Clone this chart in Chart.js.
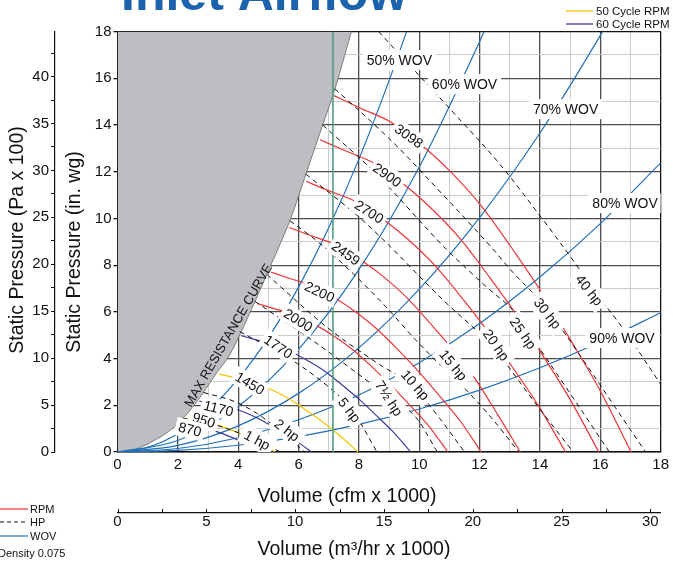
<!DOCTYPE html>
<html>
<head>
<meta charset="utf-8">
<title>Inlet Airflow</title>
<script src="https://cdn.jsdelivr.net/npm/chart.js@4.4.1/dist/chart.umd.min.js"></script>
<style>
  html, body { margin: 0; padding: 0; background: #fff; }
  #wrap { width: 673px; height: 565px; position: relative; overflow: hidden; }
</style>
</head>
<body>
<div id="wrap"><canvas id="fanChart" width="673" height="565"></canvas></div>
<script>
// values: x = volume (cfm x 1000), y = static pressure (in. wg)
const maxResistance = [[0,0],[0.44,0.06],[1.1,0.41],[1.87,1.06],[2.53,1.98],[3.3,3.41],[3.7,4.12],[4.14,5.26],[5.02,7.82],[5.74,10.0],[6.27,12.0],[6.8,14.0],[7.22,15.6],[7.75,18.0]];
const markerLine = [[7.14,0],[7.14,18]];

const rpm3098 = [[7.17,15.26],[8.0,14.75],[9.09,14.1],[10.25,12.95],[11.07,11.96],[12.06,10.53],[13.17,8.54],[14.1,6.75],[14.93,4.97],[15.97,2.69],[17.02,0]];
const rpm2900 = [[6.71,13.37],[7.49,12.93],[8.51,12.36],[9.6,11.35],[10.36,10.48],[11.29,9.23],[12.33,7.48],[13.2,5.92],[13.98,4.36],[14.95,2.36],[15.95,0]];
const rpm2700 = [[6.25,11.59],[6.97,11.2],[7.92,10.71],[8.93,9.84],[9.65,9.08],[10.51,8.0],[11.48,6.49],[12.29,5.13],[13.01,3.78],[13.92,2.04],[14.85,0]];
const rpm2459 = [[5.69,9.61],[6.35,9.29],[7.21,8.88],[8.14,8.16],[8.79,7.53],[9.57,6.63],[10.45,5.38],[11.19,4.25],[11.85,3.13],[12.6,1.6],[13.35,0]];
const rpm2200 = [[5.09,7.7],[5.68,7.44],[6.45,7.11],[7.28,6.53],[7.86,6.03],[8.56,5.31],[9.35,4.31],[10.01,3.4],[10.6,2.51],[11.34,1.36],[12.05,0]];
const rpm2000 = [[4.63,6.36],[5.16,6.15],[5.87,5.88],[6.62,5.4],[7.15,4.98],[7.79,4.39],[8.5,3.56],[9.1,2.81],[9.64,2.07],[10.31,1.12],[10.95,0]];
const rpm1770 = [[4.1,4.98],[4.57,4.81],[5.19,4.6],[5.86,4.23],[6.32,3.9],[6.89,3.44],[7.52,2.79],[8.06,2.2],[8.53,1.62],[9.12,0.88],[9.72,0]];
const rpm1450 = [[3.36,3.34],[3.74,3.23],[4.25,3.09],[4.8,2.84],[5.18,2.62],[5.64,2.31],[6.16,1.87],[6.6,1.48],[6.99,1.09],[7.47,0.59],[7.97,0]];
const rpm1170 = [[2.71,2.18],[3.02,2.1],[3.43,2.01],[3.87,1.85],[4.18,1.71],[4.56,1.5],[4.97,1.22],[5.33,0.96],[5.64,0.71],[6.03,0.38],[6.43,0]];
const rpm950 = [[2.2,1.43],[2.45,1.39],[2.79,1.33],[3.14,1.22],[3.39,1.12],[3.7,0.99],[4.04,0.8],[4.32,0.63],[4.58,0.47],[4.9,0.25],[5.22,0]];
const rpm870 = [[2.01,1.2],[2.25,1.16],[2.55,1.11],[2.88,1.02],[3.11,0.94],[3.39,0.83],[3.7,0.67],[3.96,0.53],[4.19,0.39],[4.48,0.21],[4.78,0]];

const hp40 = [[8.65,18],[9.92,16.23],[11.19,14.45],[12.62,12.4],[14.05,10.03],[15.15,8.11],[15.69,7.1],[16.8,5.2],[18,2.9]];
const hp30 = [[7.2,15.55],[8.21,14.38],[9.31,13.03],[10.41,11.53],[11.52,10.0],[12.4,8.75],[13.11,7.68],[13.72,6.87],[14.33,5.95],[15.4,4.0],[16.5,1.9],[17.5,0]];
const hp25 = [[6.8,14.0],[8.5,12.0],[10.9,8.68],[12.2,7.1],[13.17,5.97],[13.45,5.45],[14.9,2.7],[16.3,0]];
const hp20 = [[6.24,11.9],[8.21,9.82],[10.91,6.36],[12.0,5.07],[12.62,4.2],[13.9,2.0],[15.1,0]];
const hp15 = [[5.71,9.9],[6.67,8.97],[7.66,7.82],[8.87,6.25],[9.86,4.83],[10.6,3.85],[11.3,3.0],[12.4,1.45],[13.3,0]];
const hp10 = [[4.95,7.6],[6.98,5.3],[8.5,3.9],[9.87,2.7],[10.7,1.4],[11.5,0]];
const hp7half = [[4.55,6.45],[6.45,4.79],[8.1,3.22],[9.05,2.3],[9.88,1.5],[10.6,0]];
const hp5 = [[4.05,5.15],[5.0,4.5],[6.0,3.75],[7.22,2.54],[7.75,1.85],[8.6,0]];
const hp2 = [[2.85,2.55],[3.9,2.15],[4.61,1.66],[5.2,1.1],[5.75,0.5],[6.2,0]];
const hp1 = [[2.15,1.45],[3.0,1.25],[3.63,1.0],[4.23,0.71],[4.67,0.46],[5.4,0]];

const wov50 = [[0,0],[1,0.2],[2,0.78],[3,1.76],[4,3.14],[5,4.9],[6,7.06],[7,9.6],[8,12.54],[9,15.9],[9.58,18]];
const wov60 = [[0,0],[2,0.49],[4,1.95],[6,4.39],[8,7.81],[10,12.2],[12,17.57],[12.15,18]];
const wov70 = [[0,0],[2,0.28],[4,1.12],[6,2.51],[8,4.46],[10,6.97],[12,10.04],[14,13.66],[16,17.84],[16.07,18]];
const wov80 = [[0,0],[2,0.15],[4,0.61],[6,1.38],[8,2.44],[10,3.82],[12,5.5],[14,7.49],[16,9.78],[18,12.38]];
const wov90 = [[0,0],[2,0.07],[4,0.29],[6,0.66],[8,1.18],[10,1.84],[12,2.65],[14,3.61],[16,4.71],[18,5.96]];

const rpmLabels = [["3098",9.66,13.53],["2900",8.94,11.86],["2700",8.34,10.29],["2459",7.57,8.51],["2200",6.7,6.86],["2000",5.99,5.65],["1770",5.33,4.51],["1450",4.39,2.94],["1170",3.35,1.87],["950",2.86,1.37],["870",2.4,0.97]];
const hpLabels = [["40 hp",15.64,6.93],["30 hp",14.25,5.94],["25 hp",13.44,5.09],["20 hp",12.55,4.58],["15 hp",11.13,3.72],["10 hp",9.87,2.87],["7½ hp",9.0,2.3],["5 hp",7.69,1.8],["2 hp",5.62,0.94],["1 hp",4.63,0.51]];
const wovLabels = [["50% WOV",9.34,16.78],["60% WOV",11.5,15.75],["70% WOV",14.85,14.68],["80% WOV",16.82,10.66],["90% WOV",16.72,4.88]];
const curveLabel = ["MAX RESISTANCE CURVE",3.66,5.0];

// text angles (degrees, clockwise) for the labels above
const rpmAngles = [35,35,32,35,25,32,34,31,14,18,14];
const hpAngles = [52,52,55,55,51,49,57,52,38,28];

const FONT = '"Liberation Sans", Arial, Helvetica, sans-serif';
const RED = "#ee3535";
const BLUE = "#2170b8";
const PURPLE = "#3c3c9c";
const YELLOW = "#f5c400";

function toPoints(list) {
  return list.map(([x, y]) => ({ x, y }));
}

function curve(list, color, extra) {
  return Object.assign({
    data: toPoints(list),
    showLine: true,
    borderColor: color,
    borderWidth: 1.2,
    pointRadius: 0,
    cubicInterpolationMode: "monotone",
    fill: false
  }, extra || {});
}

const datasets = [
  curve(maxResistance, "#666", { fill: "end", backgroundColor: "#bdbec1", borderWidth: 0.8, order: 10 }),
  curve(markerLine, "#4f9e7f", { borderWidth: 1.6, cubicInterpolationMode: "default", tension: 0, order: 1 })
];

[wov50, wov60, wov70, wov80, wov90].forEach((w) => datasets.push(curve(w, BLUE, { order: 6 })));
[rpm3098, rpm2900, rpm2700, rpm2459, rpm2200, rpm2000].forEach((r) => datasets.push(curve(r, RED, { order: 5 })));
[rpm1770, rpm1170, rpm870].forEach((r) => datasets.push(curve(r, PURPLE, { order: 5 })));
[rpm1450, rpm950].forEach((r) => datasets.push(curve(r, YELLOW, { order: 5 })));
[hp40, hp30, hp25, hp20, hp15, hp10, hp7half, hp5, hp2, hp1].forEach((h) =>
  datasets.push(curve(h, "#111", { borderWidth: 1, borderDash: [5, 4], order: 4 }))
);

function gridColor(ctx) {
  const v = ctx.tick.value;
  if (v === 18) return "#111";
  return v % 2 === 0 ? "#4d4d4d" : "#cbcbcb";
}
function gridWidth(ctx) {
  return ctx.tick.value % 2 === 0 ? 1.3 : 1;
}
const evenOnly = (v) => (v % 2 === 0 ? v : "");
const fiveOnly = (v) => (v % 5 === 0 ? v : "");

function drawTag(chart, text, x, y, angle, size, pad) {
  const ctx = chart.ctx;
  const px = chart.scales.x.getPixelForValue(x);
  const py = chart.scales.y.getPixelForValue(y);
  ctx.save();
  ctx.translate(px, py);
  ctx.rotate(angle * Math.PI / 180);
  ctx.font = size + "px " + FONT;
  const w = ctx.measureText(text).width;
  if (pad) {
    ctx.fillStyle = "#fff";
    ctx.fillRect(-w / 2 - pad[0], -size / 2 - pad[1], w + pad[0] * 2, size + pad[1] * 2);
  }
  ctx.fillStyle = "#111";
  ctx.textAlign = "center";
  ctx.textBaseline = "middle";
  ctx.fillText(text, 0, 1);
  ctx.restore();
}

const labelPlugin = {
  id: "curveLabels",
  afterDatasetsDraw(chart) {
    const area = chart.chartArea;
    const ctx = chart.ctx;
    ctx.save();
    ctx.beginPath();
    ctx.rect(area.left, area.top, area.right - area.left, area.bottom - area.top);
    ctx.clip();
    wovLabels.forEach(([t, x, y]) => drawTag(chart, t, x, y, 0, 14, [4, 3]));
    rpmLabels.forEach(([t, x, y], i) => drawTag(chart, t, x, y, rpmAngles[i], 14, [3, 2]));
    hpLabels.forEach(([t, x, y], i) => drawTag(chart, t, x, y, hpAngles[i], 14, [4, 3]));
    drawTag(chart, curveLabel[0], curveLabel[1], curveLabel[2], -60, 13, null);
    ctx.restore();
  }
};

function axisTitle(ctx, text, x, y, rotate) {
  ctx.save();
  ctx.translate(x, y);
  if (rotate) ctx.rotate(-Math.PI / 2);
  ctx.fillText(text, 0, 0);
  ctx.restore();
}

const decorPlugin = {
  id: "sheetDecor",
  afterDraw(chart) {
    const ctx = chart.ctx;
    ctx.save();
    // sheet title, cut off at the top edge
    ctx.fillStyle = "#1b63ad";
    ctx.font = "bold 50px " + FONT;
    ctx.textBaseline = "alphabetic";
    ctx.fillText("Inlet Airflow", 121, 10);

    // axis titles
    ctx.fillStyle = "#111";
    ctx.font = "19.5px " + FONT;
    ctx.textAlign = "center";
    ctx.textBaseline = "middle";
    axisTitle(ctx, "Volume (cfm x 1000)", 347, 497, false);
    axisTitle(ctx, "Volume (m³/hr x 1000)", 354, 550, false);
    axisTitle(ctx, "Static Pressure (Pa x 100)", 18, 240, true);
    axisTitle(ctx, "Static Pressure (in. wg)", 75, 252, true);
    ctx.textAlign = "left";

    // cycle legend, top right
    ctx.font = "11.5px " + FONT;
    [["50 Cycle RPM", YELLOW, 11], ["60 Cycle RPM", PURPLE, 24]].forEach(([t, c, y]) => {
      ctx.strokeStyle = c;
      ctx.lineWidth = 1.3;
      ctx.beginPath();
      ctx.moveTo(566, y);
      ctx.lineTo(593, y);
      ctx.stroke();
      ctx.fillText(t, 596, y + 1);
    });

    // line key, bottom left
    ctx.font = "11px " + FONT;
    [["RPM", RED, 509, []], ["HP", "#111", 522, [4, 3]], ["WOV", BLUE, 536, []]].forEach(([t, c, y, dash]) => {
      ctx.strokeStyle = c;
      ctx.lineWidth = 1.2;
      ctx.setLineDash(dash);
      ctx.beginPath();
      ctx.moveTo(0, y);
      ctx.lineTo(28, y);
      ctx.stroke();
      ctx.setLineDash([]);
      ctx.fillText(t, 30, y + 1);
    });
    ctx.fillText("Density 0.075", -2, 554);

    // upward tick marks on the metric volume axis
    const m = chart.scales.xm;
    ctx.strokeStyle = "#111";
    ctx.lineWidth = 1;
    m.ticks.forEach((t) => {
      const p = Math.round(m.getPixelForValue(t.value)) + 0.5;
      ctx.beginPath();
      ctx.moveTo(p, m.top);
      ctx.lineTo(p, m.top - 4);
      ctx.stroke();
    });
    ctx.restore();
  }
};

const canvas = document.getElementById("fanChart");
new Chart(canvas, {
  type: "scatter",
  data: { datasets },
  options: {
    responsive: false,
    animation: false,
    events: [],
    layout: { padding: { left: 0, right: 7, top: 31.6, bottom: 0 } },
    plugins: { legend: { display: false }, tooltip: { enabled: false } },
    scales: {
      x: {
        type: "linear", position: "bottom", min: 0, max: 18, weight: 0,
        afterFit: (s) => { s.height = 61; },
        ticks: { stepSize: 1, autoSkip: false, maxRotation: 0, padding: 4, color: "#111", font: { size: 15, family: FONT }, callback: evenOnly },
        grid: { drawTicks: false, color: gridColor, lineWidth: gridWidth },
        border: { color: "#111", width: 1.5 },
        title: { display: false }
      },
      xm: {
        type: "linear", position: "bottom", min: 0, max: 30.58, weight: 1,
        afterFit: (s) => { s.height = 52; },
        ticks: { stepSize: 2.5, includeBounds: false, autoSkip: false, maxRotation: 0, padding: 0, color: "#111", font: { size: 15, family: FONT }, callback: fiveOnly },
        grid: { drawOnChartArea: false, drawTicks: false },
        border: { color: "#111", width: 1.3 },
        title: { display: false }
      },
      y: {
        type: "linear", position: "left", min: 0, max: 18, weight: 0,
        afterFit: (s) => { s.width = 62.5; },
        ticks: { stepSize: 1, autoSkip: false, padding: 2, color: "#111", font: { size: 15, family: FONT }, callback: evenOnly },
        grid: { color: gridColor, lineWidth: gridWidth, tickLength: 4, tickColor: (ctx) => (ctx.tick.value % 2 === 0 ? "#111" : "rgba(0,0,0,0)") },
        border: { color: "#111", width: 1.5 },
        title: { display: false }
      },
      yPa: {
        type: "linear", position: "left", min: 0, max: 44.79, weight: 1,
        afterFit: (s) => { s.width = 55; },
        ticks: { stepSize: 2.5, includeBounds: false, autoSkip: false, padding: 2, color: "#111", font: { size: 15, family: FONT }, callback: fiveOnly },
        grid: { drawOnChartArea: false, tickLength: 4, tickColor: "#111" },
        border: { color: "#111", width: 1.2 },
        title: { display: false }
      }
    }
  },
  plugins: [labelPlugin, decorPlugin]
});
</script>
</body>
</html>
